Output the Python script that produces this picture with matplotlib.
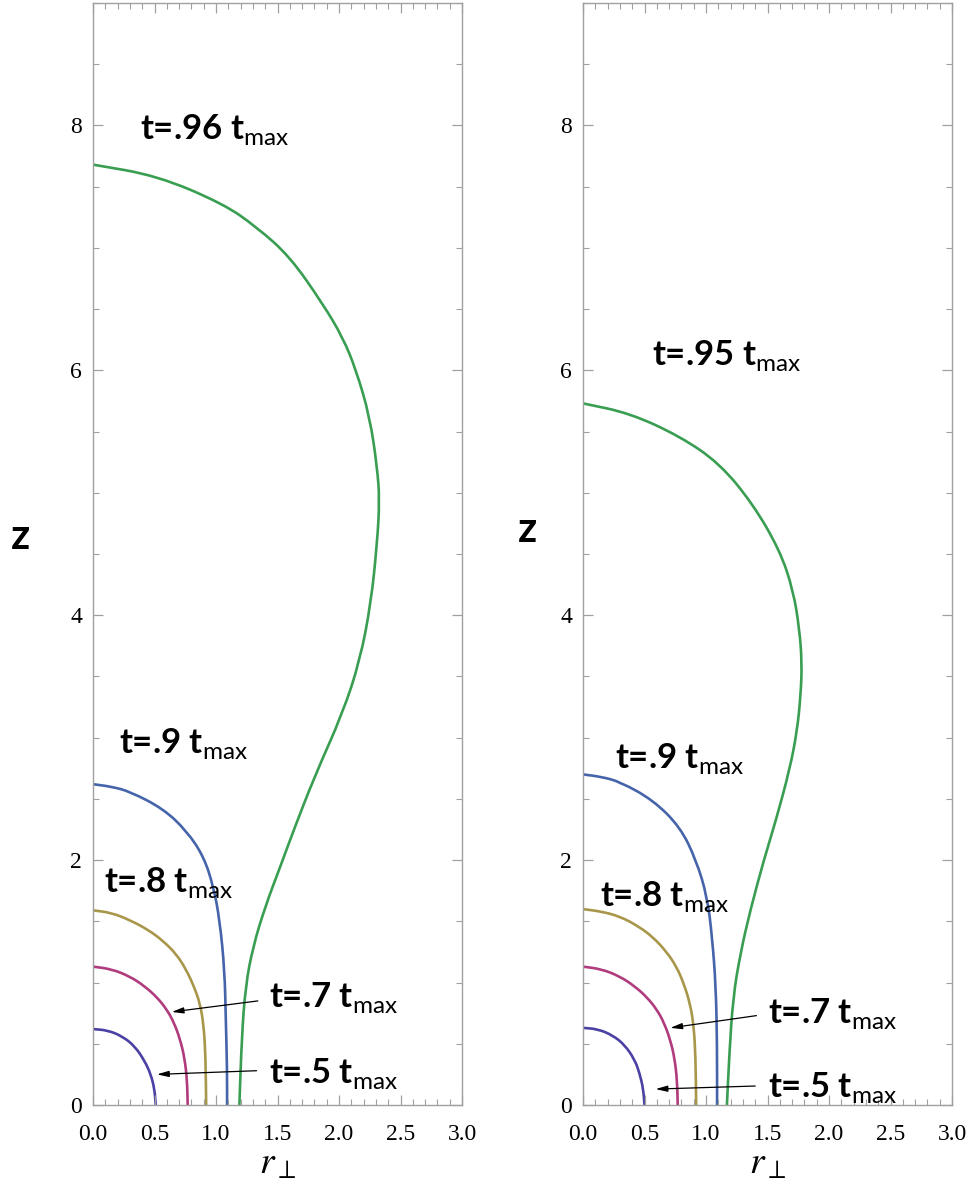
import matplotlib
matplotlib.use("Agg")
import matplotlib.pyplot as plt
from matplotlib.path import Path
from matplotlib.patches import PathPatch
from matplotlib.ticker import MultipleLocator, FixedLocator

plt.rcParams['mathtext.fontset'] = 'custom'
plt.rcParams['mathtext.rm'] = 'Lato'

# ---- data: r_perp (x) and z for each time slice ----
# left panel (last time .96 t_max)
L_r_50 = [0.0, 0.12, 0.24, 0.34, 0.42, 0.47, 0.50, 0.51]
L_z_50 = [0.62, 0.61, 0.56, 0.48, 0.36, 0.25, 0.13, 0.0]
L_r_70 = [0.0, 0.15, 0.30, 0.42, 0.52, 0.60, 0.66, 0.71, 0.745, 0.765, 0.77]
L_z_70 = [1.13, 1.11, 1.05, 0.97, 0.88, 0.78, 0.67, 0.53, 0.38, 0.20, 0.0]
L_r_80 = [0.0, 0.15, 0.30, 0.45, 0.57, 0.68, 0.76, 0.82, 0.87, 0.90, 0.915, 0.92]
L_z_80 = [1.59, 1.57, 1.51, 1.43, 1.34, 1.23, 1.10, 0.97, 0.83, 0.65, 0.40, 0.0]
L_r_90 = [0.0, 0.15, 0.30, 0.57, 0.76, 0.90, 0.98, 1.03, 1.07, 1.08, 1.09, 1.09]
L_z_90 = [2.62, 2.60, 2.56, 2.42, 2.24, 2.03, 1.78, 1.51, 1.10, 0.69, 0.30, 0.0]
L_r_96 = [0.0, 0.52, 1.06, 1.33, 1.60, 1.87, 2.03, 2.14, 2.25, 2.31, 2.33, 2.31,
          2.26, 2.17, 2.03, 1.80, 1.63, 1.52, 1.40, 1.30, 1.24, 1.21, 1.19]
L_z_96 = [7.68, 7.59, 7.36, 7.17, 6.93, 6.54, 6.27, 6.00, 5.62, 5.21, 4.94, 4.59,
          4.10, 3.63, 3.20, 2.68, 2.24, 1.94, 1.62, 1.29, 0.97, 0.56, 0.0]

# right panel (last time .95 t_max)
R_r_50 = [0.0, 0.12, 0.24, 0.34, 0.42, 0.46, 0.49, 0.50]
R_z_50 = [0.63, 0.62, 0.57, 0.49, 0.37, 0.26, 0.13, 0.0]
R_r_70 = [0.0, 0.15, 0.30, 0.42, 0.52, 0.60, 0.66, 0.71, 0.745, 0.765, 0.77]
R_z_70 = [1.13, 1.11, 1.05, 0.97, 0.88, 0.78, 0.67, 0.53, 0.38, 0.20, 0.0]
R_r_80 = [0.0, 0.15, 0.30, 0.45, 0.57, 0.68, 0.76, 0.82, 0.87, 0.90, 0.915, 0.92]
R_z_80 = [1.60, 1.58, 1.54, 1.46, 1.37, 1.25, 1.13, 0.99, 0.83, 0.65, 0.40, 0.0]
R_r_90 = [0.0, 0.15, 0.30, 0.57, 0.79, 0.92, 1.01, 1.05, 1.08, 1.09, 1.09]
R_z_90 = [2.70, 2.68, 2.64, 2.49, 2.27, 2.00, 1.70, 1.37, 0.97, 0.50, 0.0]
R_r_95 = [0.0, 0.38, 0.79, 1.11, 1.38, 1.60, 1.71, 1.76, 1.78, 1.77, 1.74,
          1.68, 1.57, 1.47, 1.36, 1.28, 1.22, 1.19, 1.17]
R_z_95 = [5.73, 5.65, 5.46, 5.24, 4.91, 4.53, 4.20, 3.88, 3.61, 3.35, 3.05,
          2.74, 2.33, 2.00, 1.59, 1.24, 0.88, 0.42, 0.0]

x_ticks = [0.0, 0.5, 1.0, 1.5, 2.0, 2.5, 3.0]
x_ticklabels = ['0.0', '0.5', '1.0', '1.5', '2.0', '2.5', '3.0']
y_ticks = [0, 2, 4, 6, 8]

colors = ['#4b41a5', '#b03c7d', '#a8974a', '#4664aa', '#3a9e52']

left_curves = [(L_r_50, L_z_50), (L_r_70, L_z_70), (L_r_80, L_z_80),
               (L_r_90, L_z_90), (L_r_96, L_z_96)]
right_curves = [(R_r_50, R_z_50), (R_r_70, R_z_70), (R_r_80, R_z_80),
                (R_r_90, R_z_90), (R_r_95, R_z_95)]

# labels: (text, x, z)
left_labels = [('t=.96 t$_{\\mathrm{max}}$', 0.38, 7.97),
               ('t=.9 t$_{\\mathrm{max}}$', 0.21, 2.95),
               ('t=.8 t$_{\\mathrm{max}}$', 0.09, 1.82),
               ('t=.7 t$_{\\mathrm{max}}$', 1.43, 0.88),
               ('t=.5 t$_{\\mathrm{max}}$', 1.43, 0.26)]
right_labels = [('t=.95 t$_{\\mathrm{max}}$', 0.56, 6.12),
                ('t=.9 t$_{\\mathrm{max}}$', 0.26, 2.83),
                ('t=.8 t$_{\\mathrm{max}}$', 0.14, 1.70),
                ('t=.7 t$_{\\mathrm{max}}$', 1.50, 0.75),
                ('t=.5 t$_{\\mathrm{max}}$', 1.50, 0.14)]

# arrows: (tail, head)
left_arrows = [((1.34, 0.85), (0.64, 0.76)), ((1.33, 0.28), (0.52, 0.25))]
right_arrows = [((1.41, 0.73), (0.71, 0.63)), ((1.40, 0.155), (0.59, 0.13))]


def smooth_path(xs, ys):
    """quadratic bezier through midpoints so the read points give a smooth line"""
    pts = list(zip(xs, ys))
    verts = [pts[0]]
    codes = [Path.MOVETO]
    mid = lambda a, b: ((a[0] + b[0]) / 2, (a[1] + b[1]) / 2)
    verts.append(mid(pts[0], pts[1]))
    codes.append(Path.LINETO)
    for i in range(1, len(pts) - 1):
        verts += [pts[i], mid(pts[i], pts[i + 1])]
        codes += [Path.CURVE3, Path.CURVE3]
    verts.append(pts[-1])
    codes.append(Path.LINETO)
    return Path(verts, codes)


def draw_panel(ax, curves, labels, arrows):
    for (xs, ys), c in zip(curves, colors):
        ax.add_patch(PathPatch(smooth_path(xs, ys), fill=False, edgecolor=c, lw=1.9))
    for txt, x, y in labels:
        ax.text(x, y, txt, fontsize=25, family='Lato', weight='bold',
                ha='left', va='center')
    for tail, head in arrows:
        ax.annotate('', xy=head, xytext=tail,
                    arrowprops=dict(arrowstyle='-|>,head_length=0.7,head_width=0.18',
                                    color='black', lw=0.9, shrinkA=0, shrinkB=0))

    ax.set_xlim(0, 3)
    ax.set_ylim(0, 9)
    ax.xaxis.set_major_locator(FixedLocator(x_ticks))
    ax.xaxis.set_minor_locator(MultipleLocator(0.1))
    ax.yaxis.set_major_locator(FixedLocator(y_ticks))
    ax.yaxis.set_minor_locator(MultipleLocator(0.5))
    ax.set_xticklabels(x_ticklabels)
    for s in ax.spines.values():
        s.set_color('#a0a0a0')
        s.set_linewidth(1.0)
    ax.tick_params(which='both', direction='in', top=True, right=True,
                   color='#a0a0a0', labelsize=17)
    ax.tick_params(which='major', length=7, width=0.9)
    ax.tick_params(which='minor', length=4, width=0.8)
    ax.tick_params(axis='x', pad=14)
    ax.tick_params(axis='y', pad=8)
    for lab in ax.get_xticklabels() + ax.get_yticklabels():
        lab.set_family('Liberation Serif')
    ax.set_xlabel(r'$r_\perp$', fontsize=27, math_fontfamily='stix', labelpad=0)


fig = plt.figure(figsize=(9.72, 11.90), dpi=100)
ax1 = fig.add_axes([93 / 972, 85 / 1190, 369 / 972, 1102 / 1190])
ax2 = fig.add_axes([583 / 972, 85 / 1190, 369 / 972, 1102 / 1190])

draw_panel(ax1, left_curves, left_labels, left_arrows)
draw_panel(ax2, right_curves, right_labels, right_arrows)

fig.text(21 / 972, 1 - 537 / 1190, 'z', fontsize=30, family='Lato', weight='bold',
         ha='center', va='center')
fig.text(527 / 972, 1 - 530 / 1190, 'z', fontsize=30, family='Lato', weight='bold',
         ha='center', va='center')

fig.savefig('out.png', dpi=100)
